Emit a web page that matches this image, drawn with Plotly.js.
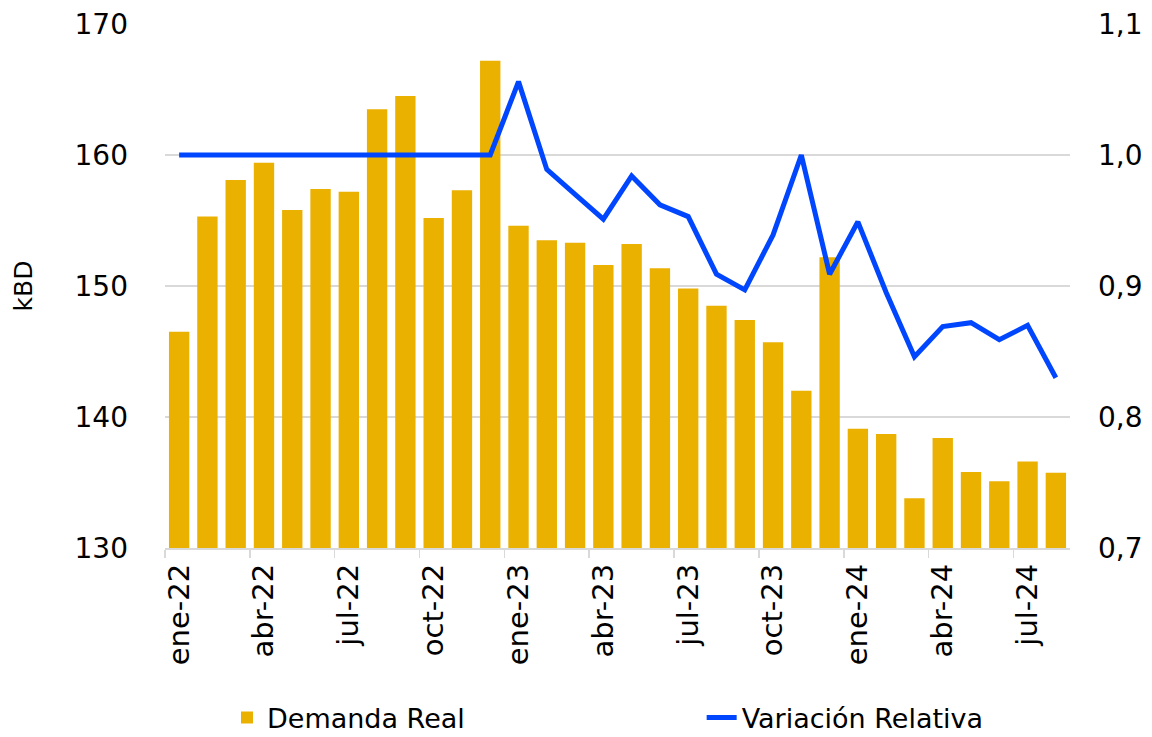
<!DOCTYPE html>
<html>
<head>
<meta charset="utf-8">
<script src="https://cdn.plot.ly/plotly-3.0.1.min.js"></script>
<style>html,body{margin:0;padding:0;background:#fff;}#chart{width:1152px;height:737px;}</style>
</head>
<body>
<div id="chart"></div>
<script>
const months = ["ene-22","feb-22","mar-22","abr-22","may-22","jun-22","jul-22","ago-22","sep-22","oct-22","nov-22","dic-22",
                "ene-23","feb-23","mar-23","abr-23","may-23","jun-23","jul-23","ago-23","sep-23","oct-23","nov-23","dic-23",
                "ene-24","feb-24","mar-24","abr-24","may-24","jun-24","jul-24","ago-24"];
const demandaReal = [146.5,155.3,158.1,159.4,155.8,157.4,157.2,163.5,164.5,155.2,157.3,167.2,
                     154.6,153.5,153.3,151.6,153.2,151.35,149.8,148.5,147.4,145.7,142.0,152.2,
                     139.1,138.7,133.8,138.4,135.8,135.1,136.6,135.75];
const variacionRelativa = [1,1,1,1,1,1,1,1,1,1,1,1,
                           1.056,0.989,0.970,0.951,0.984,0.962,0.953,0.909,0.897,0.939,1.000,0.909,
                           0.949,0.895,0.846,0.869,0.872,0.859,0.870,0.830];
const tickLabels = ["ene-22","abr-22","jul-22","oct-22","ene-23","abr-23","jul-23","oct-23","ene-24","abr-24","jul-24"];

const idx = months.map((m, i) => i);
const labelPos = tickLabels.map(t => months.indexOf(t));
const boundaryPos = labelPos.map(p => p - 0.5);
const xRange = [-0.5, months.length - 0.5];
const FONT = "DejaVu Sans, Verdana, sans-serif";
const GRID = "#d9d9d9";
const legendFont = {family: FONT, size: 27, color: "#000000"};

const traces = [
  {
    type: "bar", name: "Demanda Real", x: idx, y: demandaReal,
    hovertext: months, hoverinfo: "text+y",
    marker: {color: "#EBB100"}, xaxis: "x", yaxis: "y", legend: "legend"
  },
  {
    type: "scatter", mode: "lines", name: "Variación Relativa", x: idx, y: variacionRelativa,
    hovertext: months, hoverinfo: "text+y",
    line: {color: "#0046FF", width: 5}, xaxis: "x2", yaxis: "y2", legend: "legend2"
  }
];

const layout = {
  width: 1152, height: 737,
  margin: {l: 165, r: 82, t: 24, b: 189},
  paper_bgcolor: "#ffffff", plot_bgcolor: "#ffffff",
  font: {family: FONT, size: 28, color: "#000000"},
  separators: ",.",
  bargap: 0.28,
  showlegend: true,
  legend: {
    orientation: "h", x: 0.0685, xanchor: "left", yref: "container", y: 0.026, yanchor: "middle",
    font: legendFont, bgcolor: "rgba(0,0,0,0)"
  },
  legend2: {
    orientation: "h", x: 0.593, xanchor: "left", yref: "container", y: 0.026, yanchor: "middle",
    font: legendFont, bgcolor: "rgba(0,0,0,0)"
  },
  xaxis: {
    range: xRange, showgrid: false, zeroline: false,
    showline: true, linecolor: GRID, linewidth: 1.5,
    tickvals: boundaryPos, showticklabels: false,
    ticks: "outside", ticklen: 8, tickcolor: GRID, tickwidth: 1.5
  },
  xaxis2: {
    overlaying: "x", anchor: "y", side: "bottom", range: xRange,
    showgrid: false, zeroline: false, showline: false,
    tickvals: labelPos, ticktext: tickLabels, tickangle: -90, ticks: "",
    tickfont: {family: FONT, size: 29, color: "#000000"},
    ticklabelstandoff: 9
  },
  yaxis: {
    range: [130, 170], dtick: 10, tick0: 130,
    showgrid: true, gridcolor: GRID, gridwidth: 1.5, zeroline: false, showline: false,
    ticks: "", tickfont: {family: FONT, size: 28, color: "#000000"},
    ticklabelstandoff: 36,
    title: {text: "kBD", font: {family: FONT, size: 25, color: "#000000"}, standoff: 34}
  },
  yaxis2: {
    overlaying: "y", anchor: "x2", side: "right",
    range: [0.7, 1.1], dtick: 0.1, tick0: 0.7, tickformat: ".1f",
    showgrid: false, zeroline: false, showline: false, ticks: "",
    tickfont: {family: FONT, size: 28, color: "#000000"},
    ticklabelstandoff: 27
  }
};

Plotly.newPlot("chart", traces, layout, {displayModeBar: false, staticPlot: true});
</script>
</body>
</html>
